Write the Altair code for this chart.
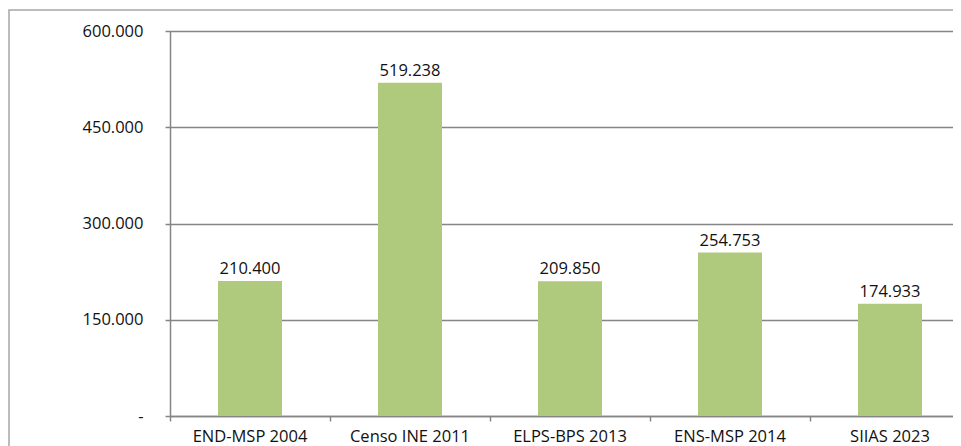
import altair as alt
import pandas as pd

categories = ["END-MSP 2004", "Censo INE 2011", "ELPS-BPS 2013", "ENS-MSP 2014", "SIIAS 2023"]
values = [210400, 519238, 209850, 254753, 174933]
y_ticks = [0, 150000, 300000, 450000, 600000]

df = pd.DataFrame({"fuente": categories, "valor": values})

FONT = "Open Sans"
GRID = "#858585"
FS = 16.5

frame = alt.Chart(pd.DataFrame({"k": [0]})).mark_rect(
    fillOpacity=0, stroke="#a6a6a6", strokeWidth=1.5
).encode(
    x=alt.value(-161), x2=alt.value(1100), y=alt.value(-21), y2=alt.value(600)
)

base = alt.Chart(df).encode(
    x=alt.X("fuente:N", sort=categories, title=None,
            scale=alt.Scale(paddingInner=0, paddingOuter=0, range=[0, 800]),
            axis=alt.Axis(labelAngle=0, labelFontSize=FS, labelFont=FONT, labelColor="#111",
                          domainColor=GRID, domainWidth=1.5, tickColor=GRID, tickSize=5,
                          tickWidth=1.5, bandPosition=0, labelPadding=7, grid=False,
                          labelBaseline="top")),
    y=alt.Y("valor:Q", title=None,
            scale=alt.Scale(domain=[0, 600000], nice=False),
            axis=alt.Axis(values=y_ticks, labelFontSize=FS, labelFont=FONT, labelColor="#111",
                          labelExpr="datum.value == 0 ? '-' : replace(format(datum.value, ',.0f'), ',', '.')",
                          domainColor=GRID, domainWidth=1.5, tickColor=GRID, tickSize=5,
                          tickWidth=1.5, labelPadding=22, gridColor=GRID, gridWidth=1.5)),
)

bars = base.mark_bar(color="#afc97d", width=alt.RelativeBandSize(0.4))
labels = base.transform_calculate(
    lbl="replace(format(datum.valor, ',.0f'), ',', '.')"
).mark_text(font=FONT, fontSize=FS, color="#111", baseline="alphabetic", dy=-7).encode(
    text="lbl:N"
)

chart = alt.layer(frame, bars, labels).properties(
    width=783, height=385,
    autosize=alt.AutoSizeParams(type="none"),
    padding={"left": 162, "top": 23, "right": 0, "bottom": 40},
).configure_view(stroke=None).configure(background="white")

chart.save("out.html", embed_options={"renderer": "svg", "actions": False})
